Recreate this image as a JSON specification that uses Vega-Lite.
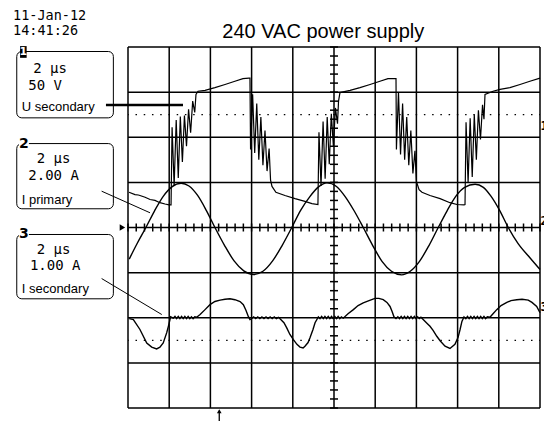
{
"$schema": "https://vega.github.io/schema/vega-lite/v6.json",
"width": 412, "height": 361,
"autosize": {"type": "none"},
"padding": {"left": 128, "top": 47, "right": 4, "bottom": 13},
"background": "white",
"config": {"view": {"stroke": null}},
"datasets": {
"boxes": [{"t":-5.40,"t2":-0.71,"v":3.90,"v2":2.43},{"t":-5.40,"t2":-0.71,"v":1.86,"v2":0.415},{"t":-5.40,"t2":-0.71,"v":-0.155,"v2":-1.58}],
"digitBg": [{"t":-5.29,"t2":-4.81,"v":1.995,"v2":1.707},{"t":-5.29,"t2":-4.81,"v":0.0,"v2":-0.288}],
"digit1Bg": [{"t":-5.24,"t2":-4.92,"v":4.02,"v2":3.76}],
"gridX": [{"t":0},{"t":2},{"t":4},{"t":6},{"t":8},{"t":10},{"t":12},{"t":14},{"t":16},{"t":18},{"t":20}],
"gridY": [{"v":-4},{"v":-3},{"v":-2},{"v":-1},{"v":0},{"v":1},{"v":2},{"v":3},{"v":4}],
"dots": [{"v":2.5},{"v":-2.5}],
"ticksX": [{"t":0},{"t":0.4},{"t":0.8},{"t":1.2},{"t":1.6},{"t":2},{"t":2.4},{"t":2.8},{"t":3.2},{"t":3.6},{"t":4},{"t":4.4},{"t":4.8},{"t":5.2},{"t":5.6},{"t":6},{"t":6.4},{"t":6.8},{"t":7.2},{"t":7.6},{"t":8},{"t":8.4},{"t":8.8},{"t":9.2},{"t":9.6},{"t":10},{"t":10.4},{"t":10.8},{"t":11.2},{"t":11.6},{"t":12},{"t":12.4},{"t":12.8},{"t":13.2},{"t":13.6},{"t":14},{"t":14.4},{"t":14.8},{"t":15.2},{"t":15.6},{"t":16},{"t":16.4},{"t":16.8},{"t":17.2},{"t":17.6},{"t":18},{"t":18.4},{"t":18.8},{"t":19.2},{"t":19.6},{"t":20}],
"ticksY": [{"v":-4},{"v":-3.8},{"v":-3.6},{"v":-3.4},{"v":-3.2},{"v":-3},{"v":-2.8},{"v":-2.6},{"v":-2.4},{"v":-2.2},{"v":-2},{"v":-1.8},{"v":-1.6},{"v":-1.4},{"v":-1.2},{"v":-1},{"v":-0.8},{"v":-0.6},{"v":-0.4},{"v":-0.2},{"v":0},{"v":0.2},{"v":0.4},{"v":0.6},{"v":0.8},{"v":1},{"v":1.2},{"v":1.4},{"v":1.6},{"v":1.8},{"v":2},{"v":2.2},{"v":2.4},{"v":2.6},{"v":2.8},{"v":3},{"v":3.2},{"v":3.4},{"v":3.6},{"v":3.8},{"v":4}],
"traceU": [{"t":0.05,"v":0.78},{"t":0.34,"v":0.73},{"t":0.50,"v":0.72},{"t":0.58,"v":0.71},{"t":0.83,"v":0.67},{"t":1.07,"v":0.62},{"t":1.31,"v":0.60},{"t":1.55,"v":0.55},{"t":1.80,"v":0.52},{"t":1.99,"v":0.50},{"t":2.09,"v":0.50},
{"t":2.14,"v":2.22},{"t":2.24,"v":0.93},{"t":2.34,"v":2.38},{"t":2.44,"v":1.10},{"t":2.54,"v":2.46},{"t":2.64,"v":1.45},{"t":2.74,"v":2.48},{"t":2.84,"v":1.80},{"t":2.94,"v":2.62},{"t":3.04,"v":2.10},{"t":3.14,"v":2.80},{"t":3.24,"v":2.55},{"t":3.30,"v":2.95},{"t":3.40,"v":3.02},
{"t":3.74,"v":3.04},{"t":4.22,"v":3.10},{"t":4.71,"v":3.17},{"t":5.19,"v":3.24},{"t":5.58,"v":3.30},{"t":5.87,"v":3.31},{"t":5.92,"v":3.31},
{"t":5.95,"v":1.73},{"t":6.05,"v":2.95},{"t":6.15,"v":1.65},{"t":6.25,"v":2.75},{"t":6.35,"v":1.50},{"t":6.45,"v":2.45},{"t":6.55,"v":1.38},{"t":6.65,"v":2.15},{"t":6.75,"v":1.25},{"t":6.85,"v":1.75},{"t":6.92,"v":1.05},{"t":6.99,"v":0.91},
{"t":7.18,"v":0.78},{"t":7.62,"v":0.71},{"t":8.11,"v":0.64},{"t":8.59,"v":0.58},{"t":8.93,"v":0.53},{"t":9.22,"v":0.51},
{"t":9.27,"v":2.11},{"t":9.37,"v":0.92},{"t":9.47,"v":2.35},{"t":9.57,"v":1.08},{"t":9.67,"v":2.45},{"t":9.77,"v":1.40},{"t":9.87,"v":2.52},{"t":9.97,"v":1.80},{"t":10.07,"v":2.65},{"t":10.17,"v":2.30},{"t":10.22,"v":2.80},{"t":10.29,"v":2.99},
{"t":10.78,"v":3.04},{"t":11.26,"v":3.10},{"t":11.75,"v":3.17},{"t":12.23,"v":3.24},{"t":12.62,"v":3.30},{"t":13.01,"v":3.30},
{"t":13.03,"v":1.73},{"t":13.13,"v":3.00},{"t":13.23,"v":1.62},{"t":13.33,"v":2.75},{"t":13.43,"v":1.50},{"t":13.53,"v":2.45},{"t":13.63,"v":1.38},{"t":13.73,"v":2.15},{"t":13.83,"v":1.20},{"t":13.93,"v":1.70},{"t":14.00,"v":1.02},{"t":14.13,"v":0.84},
{"t":14.27,"v":0.78},{"t":14.66,"v":0.71},{"t":15.15,"v":0.64},{"t":15.63,"v":0.55},{"t":15.97,"v":0.51},{"t":16.31,"v":0.50},{"t":16.36,"v":0.51},
{"t":16.41,"v":2.33},{"t":16.51,"v":1.00},{"t":16.61,"v":2.42},{"t":16.71,"v":1.12},{"t":16.81,"v":2.50},{"t":16.91,"v":1.50},{"t":17.01,"v":2.60},{"t":17.11,"v":1.95},{"t":17.21,"v":2.72},{"t":17.28,"v":2.40},{"t":17.33,"v":2.95},
{"t":17.72,"v":3.02},{"t":18.06,"v":3.06},{"t":18.54,"v":3.10},{"t":19.03,"v":3.17},{"t":19.51,"v":3.24},{"t":20.00,"v":3.31}],
"traceIS": [{"t":0.06,"v":-2.02},{"t":0.26,"v":-2.04},{"t":0.58,"v":-2.26},{"t":0.91,"v":-2.56},{"t":1.15,"v":-2.65},{"t":1.39,"v":-2.69},{"t":1.55,"v":-2.65},{"t":1.71,"v":-2.56},{"t":1.88,"v":-2.33},{"t":1.96,"v":-2.19},{"t":2.07,"v":-1.98},{"t":2.2,"v":-2.01},{"t":2.28,"v":-1.97},{"t":2.36,"v":-2.02},{"t":2.44,"v":-1.97},{"t":2.52,"v":-2.02},{"t":2.6,"v":-1.97},{"t":2.68,"v":-2.02},{"t":2.76,"v":-1.97},{"t":2.84,"v":-2.02},{"t":2.92,"v":-1.97},{"t":3.0,"v":-2.02},{"t":3.08,"v":-1.98},{"t":3.16,"v":-2.02},{"t":3.24,"v":-1.98},{"t":3.33,"v":-1.99},{"t":3.50,"v":-1.93},{"t":3.74,"v":-1.82},{"t":3.98,"v":-1.71},{"t":4.22,"v":-1.64},{"t":4.47,"v":-1.61},{"t":4.71,"v":-1.59},{"t":4.95,"v":-1.58},{"t":5.19,"v":-1.60},{"t":5.44,"v":-1.64},{"t":5.60,"v":-1.71},{"t":5.73,"v":-1.84},{"t":5.84,"v":-1.97},{"t":5.92,"v":-2.04},{"t":6.00,"v":-2.02},{"t":6.1,"v":-1.98},{"t":6.2,"v":-2.02},{"t":6.3,"v":-1.98},{"t":6.4,"v":-2.02},{"t":6.5,"v":-1.98},{"t":6.6,"v":-2.02},{"t":6.7,"v":-1.98},{"t":6.8,"v":-2.02},{"t":6.9,"v":-1.98},{"t":7.0,"v":-2.02},{"t":7.1,"v":-1.98},{"t":7.2,"v":-2.02},{"t":7.3,"v":-1.99},{"t":7.38,"v":-2.02},{"t":7.57,"v":-2.11},{"t":7.70,"v":-2.22},{"t":7.86,"v":-2.37},{"t":8.02,"v":-2.48},{"t":8.20,"v":-2.59},{"t":8.35,"v":-2.65},{"t":8.50,"v":-2.67},{"t":8.59,"v":-2.63},{"t":8.74,"v":-2.55},{"t":8.83,"v":-2.45},{"t":8.98,"v":-2.26},{"t":9.08,"v":-2.11},{"t":9.24,"v":-1.98},{"t":9.32,"v":-2.02},{"t":9.4,"v":-1.97},{"t":9.48,"v":-2.02},{"t":9.56,"v":-1.97},{"t":9.64,"v":-2.02},{"t":9.72,"v":-1.97},{"t":9.8,"v":-2.02},{"t":9.88,"v":-1.97},{"t":9.96,"v":-2.02},{"t":10.04,"v":-1.97},{"t":10.12,"v":-2.02},{"t":10.2,"v":-1.97},{"t":10.28,"v":-2.02},{"t":10.36,"v":-1.98},{"t":10.45,"v":-2.01},{"t":10.68,"v":-1.91},{"t":10.94,"v":-1.82},{"t":11.17,"v":-1.73},{"t":11.42,"v":-1.67},{"t":11.70,"v":-1.62},{"t":11.99,"v":-1.57},{"t":12.18,"v":-1.57},{"t":12.39,"v":-1.60},{"t":12.57,"v":-1.66},{"t":12.72,"v":-1.75},{"t":12.82,"v":-1.86},{"t":12.91,"v":-1.98},{"t":13.01,"v":-2.02},{"t":13.1,"v":-1.98},{"t":13.18,"v":-2.02},{"t":13.26,"v":-1.97},{"t":13.34,"v":-2.02},{"t":13.42,"v":-1.97},{"t":13.5,"v":-2.02},{"t":13.58,"v":-1.97},{"t":13.66,"v":-2.02},{"t":13.74,"v":-1.97},{"t":13.82,"v":-2.02},{"t":13.9,"v":-1.97},{"t":13.98,"v":-2.02},{"t":14.06,"v":-1.98},{"t":14.14,"v":-2.02},{"t":14.22,"v":-1.99},{"t":14.33,"v":-2.04},{"t":14.51,"v":-2.12},{"t":14.66,"v":-2.19},{"t":14.81,"v":-2.28},{"t":14.99,"v":-2.41},{"t":15.15,"v":-2.51},{"t":15.39,"v":-2.63},{"t":15.63,"v":-2.68},{"t":15.87,"v":-2.59},{"t":16.02,"v":-2.44},{"t":16.12,"v":-2.26},{"t":16.21,"v":-2.08},{"t":16.31,"v":-1.98},{"t":16.4,"v":-2.02},{"t":16.48,"v":-1.97},{"t":16.56,"v":-2.02},{"t":16.64,"v":-1.97},{"t":16.72,"v":-2.02},{"t":16.8,"v":-1.97},{"t":16.88,"v":-2.02},{"t":16.96,"v":-1.97},{"t":17.04,"v":-2.02},{"t":17.12,"v":-1.97},{"t":17.2,"v":-2.02},{"t":17.28,"v":-1.97},{"t":17.36,"v":-2.02},{"t":17.44,"v":-1.98},{"t":17.57,"v":-1.99},{"t":17.72,"v":-1.91},{"t":17.90,"v":-1.82},{"t":18.11,"v":-1.73},{"t":18.39,"v":-1.66},{"t":18.59,"v":-1.62},{"t":18.87,"v":-1.60},{"t":19.13,"v":-1.59},{"t":19.43,"v":-1.61},{"t":19.61,"v":-1.66},{"t":19.84,"v":-1.75},{"t":20.00,"v":-1.89}],
"traceIP": [{"t":0.06,"v":-0.70},{"t":0.45,"v":-0.35},{"t":0.87,"v":0},{"t":1.29,"v":0.37},{"t":1.71,"v":0.69},{"t":2.13,"v":0.90},{"t":2.58,"v":0.98},{"t":2.96,"v":0.92},{"t":3.38,"v":0.71},{"t":3.80,"v":0.38},{"t":4.22,"v":0},{"t":4.69,"v":-0.40},{"t":5.15,"v":-0.74},{"t":5.62,"v":-0.96},{"t":6.10,"v":-1.04},{"t":6.55,"v":-0.97},{"t":7.02,"v":-0.74},{"t":7.48,"v":-0.40},{"t":7.95,"v":0},{"t":8.38,"v":0.38},{"t":8.82,"v":0.68},{"t":9.25,"v":0.90},{"t":9.66,"v":0.99},{"t":10.12,"v":0.91},{"t":10.55,"v":0.68},{"t":10.99,"v":0.36},{"t":11.42,"v":0},{"t":11.88,"v":-0.40},{"t":12.33,"v":-0.75},{"t":12.79,"v":-0.97},{"t":13.28,"v":-1.05},{"t":13.70,"v":-0.97},{"t":14.15,"v":-0.75},{"t":14.61,"v":-0.40},{"t":15.06,"v":0},{"t":15.49,"v":0.37},{"t":15.91,"v":0.69},{"t":16.34,"v":0.89},{"t":16.85,"v":0.96},{"t":17.25,"v":0.89},{"t":17.61,"v":0.70},{"t":18.04,"v":0.38},{"t":18.46,"v":0},{"t":18.93,"v":-0.35},{"t":19.51,"v":-0.67},{"t":20.00,"v":-0.93}],
"leaderThick": [{"t":-1.07,"t2":2.67,"v":2.716,"v2":2.716}],
"leaderThin": [{"t":-1.28,"t2":1.07,"v":0.805,"v2":0.326},{"t":-1.28,"t2":1.64,"v":-1.131,"v2":-1.929}],
"dateText": [{"t":-5.58,"v":4.685,"label":"11-Jan-12"},{"t":-5.58,"v":4.346,"label":"14:41:26"}],
"monoText": [{"t":-4.60,"v":3.503,"label":"2 μs"},{"t":-4.84,"v":3.126,"label":"50 V"},{"t":-4.43,"v":1.508,"label":"2 μs"},{"t":-4.84,"v":1.137,"label":"2.00 A"},{"t":-4.43,"v":-0.488,"label":"2 μs"},{"t":-4.76,"v":-0.858,"label":"1.00 A"}],
"sansText": [{"t":-5.16,"v":2.672,"label":"U secondary"},{"t":-5.16,"v":0.599,"label":"I primary"},{"t":-5.16,"v":-1.353,"label":"I secondary"}],
"titleText": [{"t":9.48,"v":4.206,"label":"240 VAC power supply"}],
"digits": [{"t":-5.05,"v":1.85,"label":"2"},{"t":-5.05,"v":-0.144,"label":"3"}],
"digit1": [{"t":-5.08,"v":3.89,"label":"1"}],
"rightMarks": [{"t":20.03,"v":2.24,"label":"1"},{"t":20.03,"v":0.155,"label":"2"},{"t":20.03,"v":-1.77,"label":"3"}],
"leftMarker": [{"t":-0.27,"v":0}],
"trigShaft": [{"t":4.43,"v":-4.06,"v2":-4.4}],
"trigHead": [{"t":4.43,"v":-4.07}]
},
"layer": [
{"data":{"name":"boxes"},"mark":{"type":"rect","fill":"white","stroke":"black","strokeWidth":1,"cornerRadius":5},
 "encoding":{"x":{"field":"t","type":"quantitative","scale":{"domain":[0,20]},"axis":null},"x2":{"field":"t2"},"y":{"field":"v","type":"quantitative","scale":{"domain":[-4,4]},"axis":null},"y2":{"field":"v2"}}},
{"data":{"name":"digitBg"},"mark":{"type":"rect","fill":"white"},
 "encoding":{"x":{"field":"t","type":"quantitative","scale":{"domain":[0,20]},"axis":null},"x2":{"field":"t2"},"y":{"field":"v","type":"quantitative","scale":{"domain":[-4,4]},"axis":null},"y2":{"field":"v2"}}},
{"data":{"name":"digit1Bg"},"mark":{"type":"rect","fill":"black"},
 "encoding":{"x":{"field":"t","type":"quantitative","scale":{"domain":[0,20]},"axis":null},"x2":{"field":"t2"},"y":{"field":"v","type":"quantitative","scale":{"domain":[-4,4]},"axis":null},"y2":{"field":"v2"}}},
{"data":{"name":"gridX"},"mark":{"type":"rule","color":"black","strokeWidth":1.5},
 "encoding":{"x":{"field":"t","type":"quantitative","scale":{"domain":[0,20]},"axis":null}}},
{"data":{"name":"gridY"},"mark":{"type":"rule","color":"black","strokeWidth":1.5},
 "encoding":{"y":{"field":"v","type":"quantitative","scale":{"domain":[-4,4]},"axis":null}}},
{"data":{"name":"dots"},"mark":{"type":"rule","color":"black","strokeWidth":1.2,"strokeDash":[1.5,6.74],"strokeDashOffset":0.75},
 "encoding":{"y":{"field":"v","type":"quantitative","scale":{"domain":[-4,4]},"axis":null}}},
{"data":{"name":"ticksX"},"mark":{"type":"tick","orient":"vertical","size":8,"thickness":1.5,"color":"black","opacity":1},
 "encoding":{"x":{"field":"t","type":"quantitative","scale":{"domain":[0,20]},"axis":null},"y":{"datum":0,"type":"quantitative","scale":{"domain":[-4,4]},"axis":null}}},
{"data":{"name":"ticksY"},"mark":{"type":"tick","orient":"horizontal","size":8,"thickness":1.5,"color":"black","opacity":1},
 "encoding":{"y":{"field":"v","type":"quantitative","scale":{"domain":[-4,4]},"axis":null},"x":{"datum":10,"type":"quantitative","scale":{"domain":[0,20]},"axis":null}}},
{"data":{"name":"traceIP"},"mark":{"type":"line","color":"black","strokeWidth":1.4,"interpolate":"monotone"},
 "encoding":{"x":{"field":"t","type":"quantitative","scale":{"domain":[0,20]},"axis":null},"y":{"field":"v","type":"quantitative","scale":{"domain":[-4,4]},"axis":null}}},
{"data":{"name":"traceIS"},"mark":{"type":"line","color":"black","strokeWidth":1.4},
 "encoding":{"x":{"field":"t","type":"quantitative","scale":{"domain":[0,20]},"axis":null},"y":{"field":"v","type":"quantitative","scale":{"domain":[-4,4]},"axis":null}}},
{"data":{"name":"traceU"},"mark":{"type":"line","color":"black","strokeWidth":1.2},
 "encoding":{"x":{"field":"t","type":"quantitative","scale":{"domain":[0,20]},"axis":null},"y":{"field":"v","type":"quantitative","scale":{"domain":[-4,4]},"axis":null}}},
{"data":{"name":"leaderThick"},"mark":{"type":"rule","color":"black","strokeWidth":2.6},
 "encoding":{"x":{"field":"t","type":"quantitative","scale":{"domain":[0,20]},"axis":null},"x2":{"field":"t2"},"y":{"field":"v","type":"quantitative","scale":{"domain":[-4,4]},"axis":null},"y2":{"field":"v2"}}},
{"data":{"name":"leaderThin"},"mark":{"type":"rule","color":"black","strokeWidth":1},
 "encoding":{"x":{"field":"t","type":"quantitative","scale":{"domain":[0,20]},"axis":null},"x2":{"field":"t2"},"y":{"field":"v","type":"quantitative","scale":{"domain":[-4,4]},"axis":null},"y2":{"field":"v2"}}},
{"data":{"name":"dateText"},"mark":{"type":"text","font":"DejaVu Sans Mono","fontSize":13.5,"align":"left","baseline":"middle","color":"black"},
 "encoding":{"x":{"field":"t","type":"quantitative","scale":{"domain":[0,20]},"axis":null},"y":{"field":"v","type":"quantitative","scale":{"domain":[-4,4]},"axis":null},"text":{"field":"label"}}},
{"data":{"name":"monoText"},"mark":{"type":"text","font":"DejaVu Sans Mono","fontSize":14,"align":"left","baseline":"middle","color":"black"},
 "encoding":{"x":{"field":"t","type":"quantitative","scale":{"domain":[0,20]},"axis":null},"y":{"field":"v","type":"quantitative","scale":{"domain":[-4,4]},"axis":null},"text":{"field":"label"}}},
{"data":{"name":"sansText"},"mark":{"type":"text","font":"Liberation Sans","fontSize":13,"align":"left","baseline":"middle","color":"black"},
 "encoding":{"x":{"field":"t","type":"quantitative","scale":{"domain":[0,20]},"axis":null},"y":{"field":"v","type":"quantitative","scale":{"domain":[-4,4]},"axis":null},"text":{"field":"label"}}},
{"data":{"name":"titleText"},"mark":{"type":"text","font":"Liberation Sans","fontSize":20,"align":"center","baseline":"alphabetic","color":"black"},
 "encoding":{"x":{"field":"t","type":"quantitative","scale":{"domain":[0,20]},"axis":null},"y":{"field":"v","type":"quantitative","scale":{"domain":[-4,4]},"axis":null},"text":{"field":"label"}}},
{"data":{"name":"digits"},"mark":{"type":"text","font":"DejaVu Sans","fontSize":14,"fontWeight":"bold","align":"center","baseline":"middle","color":"black"},
 "encoding":{"x":{"field":"t","type":"quantitative","scale":{"domain":[0,20]},"axis":null},"y":{"field":"v","type":"quantitative","scale":{"domain":[-4,4]},"axis":null},"text":{"field":"label"}}},
{"data":{"name":"digit1"},"mark":{"type":"text","font":"DejaVu Sans","fontSize":11,"fontWeight":"bold","align":"center","baseline":"middle","color":"white"},
 "encoding":{"x":{"field":"t","type":"quantitative","scale":{"domain":[0,20]},"axis":null},"y":{"field":"v","type":"quantitative","scale":{"domain":[-4,4]},"axis":null},"text":{"field":"label"}}},
{"data":{"name":"rightMarks"},"mark":{"type":"text","font":"DejaVu Sans Mono","fontSize":12,"fontWeight":"bold","align":"left","baseline":"middle","color":"black"},
 "encoding":{"x":{"field":"t","type":"quantitative","scale":{"domain":[0,20]},"axis":null},"y":{"field":"v","type":"quantitative","scale":{"domain":[-4,4]},"axis":null},"text":{"field":"label"}}},
{"data":{"name":"leftMarker"},"mark":{"type":"point","shape":"triangle-right","filled":true,"color":"black","size":40,"opacity":1},
 "encoding":{"x":{"field":"t","type":"quantitative","scale":{"domain":[0,20]},"axis":null},"y":{"field":"v","type":"quantitative","scale":{"domain":[-4,4]},"axis":null}}},
{"data":{"name":"trigShaft"},"mark":{"type":"rule","color":"black","strokeWidth":1.3},
 "encoding":{"x":{"field":"t","type":"quantitative","scale":{"domain":[0,20]},"axis":null},"y":{"field":"v","type":"quantitative","scale":{"domain":[-4,4]},"axis":null},"y2":{"field":"v2"}}},
{"data":{"name":"trigHead"},"mark":{"type":"point","shape":"triangle-up","filled":true,"color":"black","size":22,"opacity":1},
 "encoding":{"x":{"field":"t","type":"quantitative","scale":{"domain":[0,20]},"axis":null},"y":{"field":"v","type":"quantitative","scale":{"domain":[-4,4]},"axis":null}}}
]
}
